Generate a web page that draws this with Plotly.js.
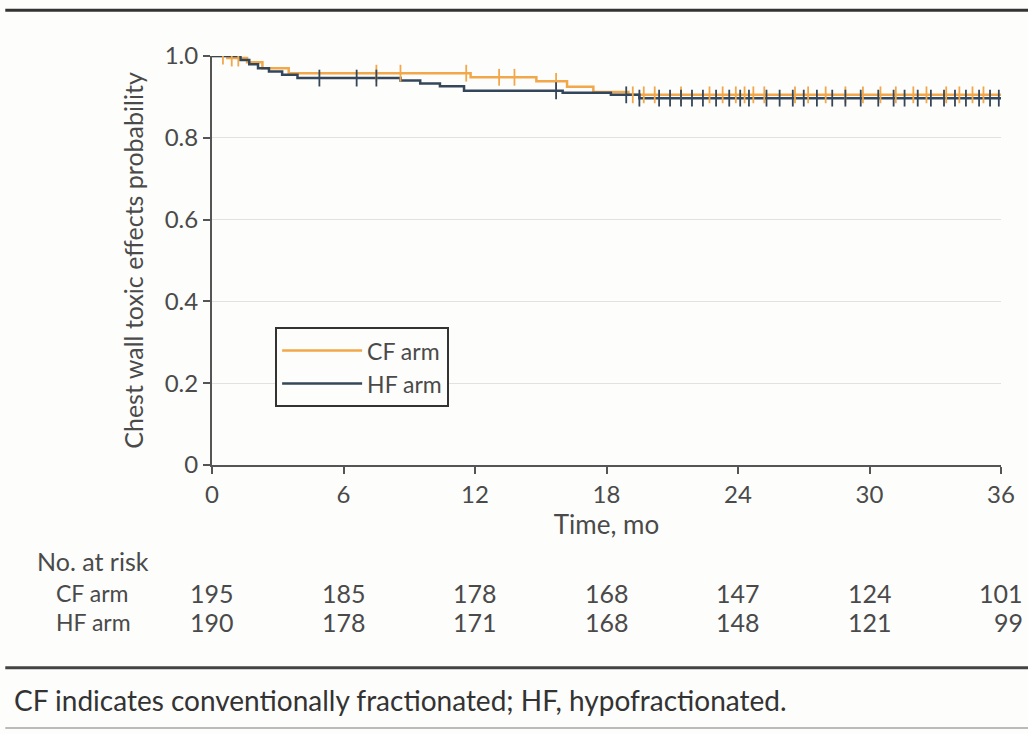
<!DOCTYPE html>
<html>
<head>
<meta charset="utf-8">
<script src="https://cdn.plot.ly/plotly-3.0.1.min.js"></script>
<style>html,body{margin:0;padding:0;background:#fdfdfc;} #chart{width:1028px;height:734px;}</style>
</head>
<body>
<div id="chart"></div>
<script>
// ---- Data ----
const cfTimes = [0, 0.7, 1.6, 2.3, 3.5, 11.8, 14.8, 16.2, 17.4, 19.0, 36];
const cfSurv  = [1.0, 0.995, 0.985, 0.97, 0.958, 0.948, 0.938, 0.925, 0.912, 0.905, 0.905];
const hfTimes = [0, 1.3, 1.7, 2.1, 2.6, 3.2, 3.9, 8.6, 9.5, 10.4, 11.5, 16.0, 18.2, 19.5, 36];
const hfSurv  = [1.0, 0.99, 0.98, 0.97, 0.962, 0.954, 0.946, 0.94, 0.933, 0.926, 0.915, 0.91, 0.905, 0.897, 0.897];
const cfCensor = [0.5, 0.9, 1.2, 7.5, 8.6, 11.6, 13.1, 13.8, 15.7, 19.2, 19.7, 20.2, 21.4, 22.7, 23.3, 23.9, 24.3, 24.7, 25.2, 26.6, 27.2, 28.0, 28.9, 29.7, 30.5, 31.2, 32.0, 32.6, 33.5, 34.1, 34.7, 35.2];
const hfCensor = [4.9, 6.6, 7.5, 15.7, 18.9, 19.5, 20.4, 20.9, 21.4, 21.9, 22.4, 23.0, 23.6, 24.1, 24.5, 25.3, 25.9, 26.5, 27.0, 27.6, 28.3, 28.9, 29.6, 30.4, 31.1, 31.6, 32.2, 32.8, 33.4, 33.9, 34.4, 35.0, 35.5, 35.9];
const xTicks = [0, 6, 12, 18, 24, 30, 36];
const yTicks = [0, 0.2, 0.4, 0.6, 0.8, 1.0];
const yTickText = ['0', '0.2', '0.4', '0.6', '0.8', '1.0'];
const armNames = ['CF arm', 'HF arm'];
const riskCF = [195, 185, 178, 168, 147, 124, 101];
const riskHF = [190, 178, 171, 168, 148, 121, 99];
const footnote = 'CF indicates conventionally fractionated; HF, hypofractionated.';

const CF_COLOR = '#f2a84a';
const HF_COLOR = '#34465a';
const TXT = '#4a4a4a';
const FONT = 'Lato, "Open Sans", sans-serif';

function stepAt(times, surv, t) {
  let v = surv[0];
  for (let i = 0; i < times.length; i++) { if (times[i] <= t) v = surv[i]; }
  return v;
}

const traces = [
  {x: cfTimes, y: cfSurv, name: armNames[0], mode: 'lines', line: {shape: 'hv', color: CF_COLOR, width: 2.5}},
  {x: hfTimes, y: hfSurv, name: armNames[1], mode: 'lines', line: {shape: 'hv', color: HF_COLOR, width: 2.5}},
  {x: cfCensor, y: cfCensor.map(t => stepAt(cfTimes, cfSurv, t)), mode: 'markers', showlegend: false, hoverinfo: 'skip',
   marker: {symbol: 'line-ns', size: 12, line: {color: CF_COLOR, width: 1.8}}},
  {x: hfCensor, y: hfCensor.map(t => stepAt(hfTimes, hfSurv, t)), mode: 'markers', showlegend: false, hoverinfo: 'skip',
   marker: {symbol: 'line-ns', size: 12, line: {color: HF_COLOR, width: 1.8}}}
];

const annotations = [];
annotations.push({xref: 'paper', yref: 'paper', x: -0.224, y: -0.235, xanchor: 'left', yanchor: 'middle',
  text: 'No. at risk', showarrow: false, font: {family: FONT, size: 25, color: TXT}});
armNames.forEach((nm, r) => {
  annotations.push({xref: 'paper', yref: 'paper', x: -0.2, y: r === 0 ? -0.313 : -0.384, xanchor: 'left', yanchor: 'middle',
    text: nm, showarrow: false, font: {family: FONT, size: 23, color: TXT}});
});
[riskCF, riskHF].forEach((row, r) => {
  row.forEach((v, i) => {
    const last = i === row.length - 1;
    annotations.push({xref: 'x', yref: 'paper', x: xTicks[i], y: r === 0 ? -0.313 : -0.384,
      xanchor: last ? 'right' : 'center', xshift: last ? 24 : 0, yanchor: 'middle',
      text: String(v), showarrow: false, font: {family: FONT, size: 25, color: TXT}});
  });
});
annotations.push({xref: 'paper', yref: 'paper', x: -0.254, y: -0.575, xanchor: 'left', yanchor: 'middle',
  text: footnote, showarrow: false, font: {family: FONT, size: 28, color: '#333'}});

const shapes = [
  {type: 'line', xref: 'paper', yref: 'paper', x0: -0.262, x1: 1.04, y0: 1.112, y1: 1.112, line: {color: '#333', width: 3}},
  {type: 'line', xref: 'paper', yref: 'paper', x0: -0.262, x1: 1.04, y0: -0.496, y1: -0.496, line: {color: '#444', width: 3}},
  {type: 'line', xref: 'paper', yref: 'paper', x0: -0.262, x1: 1.04, y0: -0.643, y1: -0.643, line: {color: '#bbb', width: 2}}
];

const layout = {
  width: 1028, height: 734,
  margin: {l: 212, r: 27, t: 56, b: 269},
  paper_bgcolor: '#fdfdfc', plot_bgcolor: '#fdfdfc',
  font: {family: FONT, color: TXT, size: 21},
  showlegend: true,
  legend: {x: 0.08, y: 0.337, xanchor: 'left', yanchor: 'top', bordercolor: '#333', borderwidth: 2,
    bgcolor: '#fdfdfc', font: {family: FONT, size: 23, color: TXT}, itemwidth: 80, tracegroupgap: 0},
  xaxis: {range: [0, 36], tickvals: xTicks, ticktext: xTicks.map(String), showgrid: false, zeroline: false,
    showline: true, linecolor: '#555', linewidth: 2, ticks: 'outside', ticklen: 7, tickwidth: 2, tickcolor: '#555',
    tickfont: {family: FONT, size: 24, color: TXT},
    title: {text: 'Time, mo', font: {family: FONT, size: 26, color: TXT}, standoff: 6}},
  yaxis: {range: [0, 1.0], tickvals: yTicks, ticktext: yTickText, showgrid: true, gridcolor: '#e2e2e2', gridwidth: 1,
    zeroline: false, showline: true, linecolor: '#555', linewidth: 2, ticks: 'outside', ticklen: 7, tickwidth: 2,
    tickcolor: '#555', tickfont: {family: FONT, size: 24, color: TXT},
    title: {text: 'Chest wall toxic effects probability', font: {family: FONT, size: 25, color: TXT}, standoff: 14}},
  annotations: annotations,
  shapes: shapes
};

Plotly.newPlot('chart', traces, layout, {displayModeBar: false, staticPlot: true});
</script>
</body>
</html>
